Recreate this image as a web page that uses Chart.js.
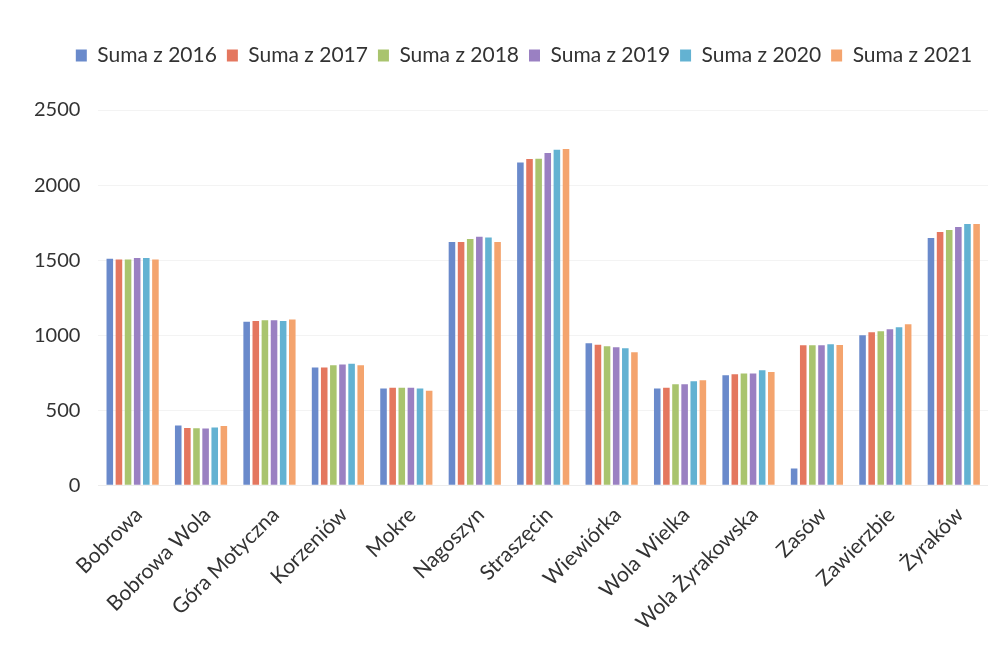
<!DOCTYPE html>
<html>
<head>
<meta charset="utf-8">
<script src="https://cdn.jsdelivr.net/npm/chart.js@4.4.1/dist/chart.umd.min.js"></script>
<style>
  html, body { margin: 0; padding: 0; background: #fff; }
  #wrap { width: 988px; height: 645px; }
</style>
</head>
<body>
<div id="wrap"><canvas id="chart" width="988" height="645"></canvas></div>
<script>
// villages (x axis)
var villages = ["Bobrowa", "Bobrowa Wola", "Góra Motyczna", "Korzeniów", "Mokre", "Nagoszyn",
  "Straszęcin", "Wiewiórka", "Wola Wielka", "Wola Żyrakowska", "Zasów", "Zawierzbie", "Żyraków"];

// yearly sums per village
var suma2016 = [1510, 398, 1090, 785, 645, 1620, 2150, 947, 645, 733, 113, 1000, 1647];
var suma2017 = [1505, 382, 1095, 785, 650, 1620, 2173, 937, 650, 740, 933, 1020, 1687];
var suma2018 = [1505, 380, 1100, 800, 650, 1640, 2175, 927, 673, 745, 933, 1027, 1700];
var suma2019 = [1515, 378, 1100, 805, 650, 1655, 2213, 920, 673, 745, 933, 1040, 1720];
var suma2020 = [1515, 385, 1095, 810, 645, 1650, 2235, 913, 693, 767, 940, 1053, 1740];
var suma2021 = [1505, 395, 1105, 800, 630, 1620, 2240, 887, 700, 755, 935, 1073, 1740];

var seriesNames = ["Suma z 2016", "Suma z 2017", "Suma z 2018", "Suma z 2019", "Suma z 2020", "Suma z 2021"];
var seriesColors = ["#6A8ACB", "#E4775F", "#A9C46E", "#9A80C2", "#63B2D2", "#F4A46E"];
var yTicks = [0, 500, 1000, 1500, 2000, 2500];

var allSeries = [suma2016, suma2017, suma2018, suma2019, suma2020, suma2021];
var datasets = [];
for (var i = 0; i < allSeries.length; i++) {
  datasets.push({
    label: seriesNames[i],
    data: allSeries[i],
    backgroundColor: seriesColors[i],
    borderWidth: 0,
    categoryPercentage: 0.8,
    barPercentage: 0.72
  });
}

var fontFam = "Lato, 'Open Sans', sans-serif";

// extra room under the legend, and legend nudged a little to the right
var legendTweak = {
  id: "legendTweak",
  beforeInit: function (chart) {
    var fit = chart.legend.fit;
    chart.legend.fit = function () {
      fit.bind(chart.legend)();
      this.height += 34;
    };
  },
  afterLayout: function (chart) {
    chart.legend.left += 22;
    chart.legend.right += 22;
  }
};

new Chart(document.getElementById("chart").getContext("2d"), {
  type: "bar",
  data: { labels: villages, datasets: datasets },
  plugins: [legendTweak],
  options: {
    responsive: false,
    animation: false,
    layout: { padding: { top: 35, right: 0, left: 16, bottom: 1 } },
    plugins: {
      tooltip: { enabled: false },
      legend: {
        position: "top",
        labels: {
          boxWidth: 11,
          boxHeight: 12,
          padding: 10,
          color: "#333",
          font: { family: fontFam, size: 21 }
        }
      }
    },
    scales: {
      x: {
        grid: { display: false },
        border: { display: true, color: "#ececec" },
        ticks: {
          minRotation: 45,
          maxRotation: 45,
          padding: 9,
          labelOffset: 6,
          color: "#333",
          font: { family: fontFam, size: 21 }
        }
      },
      y: {
        min: 0,
        max: 2500,
        afterBuildTicks: function (axis) {
          axis.ticks = yTicks.map(function (v) { return { value: v }; });
        },
        grid: { color: "#f3f3f3", drawTicks: false },
        border: { display: false },
        ticks: {
          padding: 18,
          color: "#333",
          font: { family: fontFam, size: 20 },
          callback: function (v) { return String(v); }
        }
      }
    }
  }
});
</script>
</body>
</html>
